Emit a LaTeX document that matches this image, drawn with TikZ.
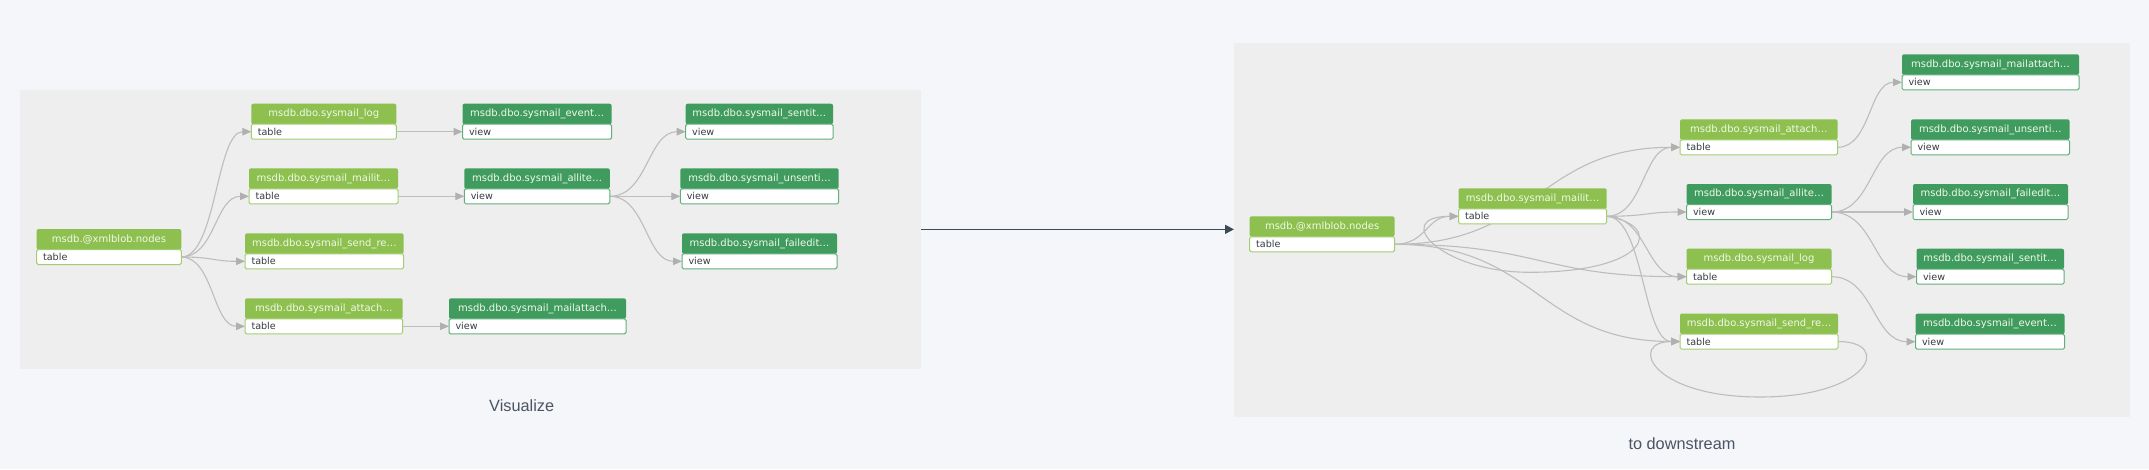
\documentclass[tikz,border=0pt]{standalone}
\usepackage{fontspec}
\newfontfamily\nodefont{DejaVu Sans}
\newfontfamily\labelfont{Liberation Sans}
\usetikzlibrary{arrows.meta}
\definecolor{bgc}{HTML}{F4F6FA}
\definecolor{panelc}{HTML}{EEEEEE}
\definecolor{tblc}{HTML}{8DC04F}
\definecolor{tblborder}{HTML}{A3CD72}
\definecolor{vwc}{HTML}{409C5E}
\definecolor{vwborder}{HTML}{62AF7A}
\definecolor{edgec}{HTML}{BDBDBD}
\definecolor{tipc}{HTML}{B0B0B0}
\definecolor{hdrtext}{HTML}{F1F8E9}
\definecolor{bodytext}{HTML}{363B42}
\definecolor{labelc}{HTML}{4B5563}
\definecolor{flowc}{HTML}{3E4A55}
\pgfdeclarelayer{back}
\pgfdeclarelayer{mid}
\pgfsetlayers{back,mid,main}
\tikzset{
  hdr/.style={inner sep=0pt, outer sep=0pt, minimum height=20.5pt, rounded corners=2pt,
    text=hdrtext, font=\nodefont\fontsize{10}{12}\selectfont},
  tblhdr/.style={fill=tblc},
  vwhdr/.style={fill=vwc},
  bodyb/.style={inner sep=0pt, outer sep=0pt, minimum height=15pt, fill=white,
    line width=1pt, rounded corners=1.5pt},
  tblbody/.style={draw=tblborder},
  vwbody/.style={draw=vwborder},
  bodytxt/.style={inner sep=0pt, outer sep=0pt, text=bodytext,
    font=\nodefont\fontsize{9.6}{11}\selectfont, anchor=west},
  edge/.style={draw=edgec, line width=1.1pt, -{Triangle[length=9pt,width=7.5pt,color=tipc]}},
  flow/.style={draw=flowc, line width=1.5pt, -{Triangle[length=9pt,width=9pt,color=flowc]}},
  panel/.style={fill=panelc, inner sep=0pt, outer sep=0pt, anchor=north west},
  lbl/.style={text=labelc, font=\labelfont\fontsize{16.3}{19}\selectfont, inner sep=0pt}
}
\newcommand\dbent[7]{%
  \node[hdr,#7hdr,minimum width=#4pt,anchor=north west] (#1h) at (#2,-#3) {#5};
  \node[bodyb,#7body,minimum width=#4pt,anchor=north] (#1) at (#1h.south) {};
  \node[bodytxt] (#1t) at ([xshift=6.5pt]#1.west) {#6};
}
\begin{document}
\begin{tikzpicture}[x=1pt,y=1pt]
\useasboundingbox (0,0) rectangle (2149,-469);
\begin{pgfonlayer}{back}
  \fill[bgc] (0,0) rectangle (2149,-469);
  \node[panel, minimum width=900.7pt, minimum height=278.7pt] (leftpanel) at (20.3,-90) {};
  \node[panel, minimum width=896pt, minimum height=373.4pt] (rightpanel) at (1234,-43.3) {};
\end{pgfonlayer}

% left graph
\dbent{La}{36.6}{229}{144.7}{msdb.@xmlblob.nodes}{table}{tbl}
\dbent{Lb}{251.3}{103.7}{145}{msdb.dbo.sysmail\_log}{table}{tbl}
\dbent{Lc}{249}{168.3}{149}{msdb.dbo.sysmail\_mailit…}{table}{tbl}
\dbent{Ld}{245}{233.3}{158.6}{msdb.dbo.sysmail\_send\_re…}{table}{tbl}
\dbent{Le}{245}{298.3}{157.7}{msdb.dbo.sysmail\_attach…}{table}{tbl}
\dbent{Lf}{462.5}{103.7}{149.1}{msdb.dbo.sysmail\_event…}{view}{vw}
\dbent{Lg}{464.3}{168.3}{145.5}{msdb.dbo.sysmail\_allite…}{view}{vw}
\dbent{Lh}{449}{298.3}{177}{msdb.dbo.sysmail\_mailattach…}{view}{vw}
\dbent{Li}{685.7}{103.7}{147.3}{msdb.dbo.sysmail\_sentit…}{view}{vw}
\dbent{Lj}{680.3}{168.3}{158.4}{msdb.dbo.sysmail\_unsenti…}{view}{vw}
\dbent{Lk}{682}{233.3}{155}{msdb.dbo.sysmail\_failedit…}{view}{vw}

% right graph
\dbent{Ra}{1249.7}{216.3}{144.8}{msdb.@xmlblob.nodes}{table}{tbl}
\dbent{Rb}{1458.5}{188.3}{148.2}{msdb.dbo.sysmail\_mailit…}{table}{tbl}
\dbent{Rc}{1680}{119.3}{157.6}{msdb.dbo.sysmail\_attach…}{table}{tbl}
\dbent{Rd}{1686.5}{184}{145}{msdb.dbo.sysmail\_allite…}{view}{vw}
\dbent{Re}{1686.5}{248.7}{145}{msdb.dbo.sysmail\_log}{table}{tbl}
\dbent{Rf}{1680}{313.5}{158}{msdb.dbo.sysmail\_send\_re…}{table}{tbl}
\dbent{Rg}{1902}{54.3}{177}{msdb.dbo.sysmail\_mailattach…}{view}{vw}
\dbent{Rh}{1911}{119.3}{158.5}{msdb.dbo.sysmail\_unsenti…}{view}{vw}
\dbent{Ri}{1913}{184}{155}{msdb.dbo.sysmail\_failedit…}{view}{vw}
\dbent{Rj}{1916.5}{248.7}{147.5}{msdb.dbo.sysmail\_sentit…}{view}{vw}
\dbent{Rk}{1915.5}{313.7}{149}{msdb.dbo.sysmail\_event…}{view}{vw}

\node[lbl] (vislabel) at (521.7,-405.7) {Visualize};
\node[lbl] (dslabel) at (1682,-444) {to downstream};

\begin{pgfonlayer}{mid}
  \draw[flow] (leftpanel.east) -- (leftpanel.east -| rightpanel.west);
  % left edges
  \draw[edge] (La.east) .. controls +(35,0) and +(-35,0) .. (Lb.west);
  \draw[edge] (La.east) .. controls +(34,0) and +(-34,0) .. (Lc.west);
  \draw[edge] (La.east) .. controls +(32,0) and +(-32,0) .. (Ld.west);
  \draw[edge] (La.east) .. controls +(32,0) and +(-32,0) .. (Le.west);
  \draw[edge] (Lb.east) -- (Lf.west);
  \draw[edge] (Lc.east) -- (Lg.west);
  \draw[edge] (Le.east) -- (Lh.west);
  \draw[edge] (Lg.east) .. controls +(38,0) and +(-38,0) .. (Li.west);
  \draw[edge] (Lg.east) -- (Lj.west);
  \draw[edge] (Lg.east) .. controls +(36,0) and +(-36,0) .. (Lk.west);
  % right edges
  \draw[edge] (Ra.east) .. controls +(32,0) and +(-32,0) .. (Rb.west);
  \draw[edge] (Ra.east) .. controls +(143,0) and +(-143,0) .. (Rc.west);
  \draw[edge] (Ra.east) .. controls +(146,0) and +(-146,0) .. (Re.west);
  \draw[edge] (Ra.east) .. controls +(143,0) and +(-143,0) .. (Rf.west);
  \draw[edge] (Rb.east) .. controls +(37,0) and +(-37,0) .. (Rc.west);
  \draw[edge] (Rb.east) .. controls +(40,0) and +(-40,0) .. (Rd.west);
  \draw[edge] (Rb.east) .. controls +(40,0) and +(-40,0) .. (Re.west);
  \draw[edge] (Rb.east) .. controls +(37,0) and +(-37,0) .. (Rf.west);
  \draw[edge] (Rb.east) .. controls +(58,-9) and +(120,0) .. ++(-77,-56)
                        .. controls +(-90,0) and +(-68,0) .. (Rb.west);
  \draw[edge] (Rc.east) .. controls +(33,0) and +(-33,0) .. (Rg.west);
  \draw[edge] (Rd.east) .. controls +(40,0) and +(-40,0) .. (Rh.west);
  \draw[edge] (Rd.east) -- (Ri.west);
  \draw[edge] (Rd.east) .. controls +(43,0) and +(-43,0) .. (Rj.west);
  \draw[edge] (Re.east) .. controls +(42,0) and +(-42,0) .. (Rk.west);
  \draw[edge] (Rf.east) .. controls +(55,0) and +(110,0) .. ++(-78,-55.5)
                        .. controls +(-110,0) and +(-52,0) .. (Rf.west);
\end{pgfonlayer}
\end{tikzpicture}
\end{document}
